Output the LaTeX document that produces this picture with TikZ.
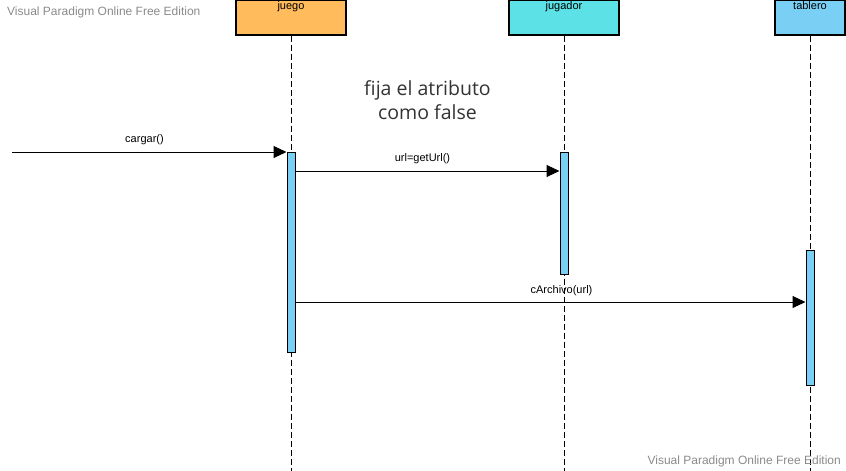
\documentclass[tikz,border=0pt]{standalone}
\usepackage{fontspec}
\setmainfont{Liberation Sans}
\newfontfamily\notefont{Open Sans}
\usepackage{tikz}
\usetikzlibrary{arrows.meta}
\definecolor{boxorange}{HTML}{FFBB5C}
\definecolor{boxcyan}{HTML}{5CE1E6}
\definecolor{boxblue}{HTML}{7ACFF5}
\definecolor{wmgray}{HTML}{8A8A8A}
\definecolor{notegray}{HTML}{333333}

\begin{document}
\begin{tikzpicture}[x=1pt,y=-1pt,
		obj/.style={draw,line width=1.1pt,minimum width=110pt,minimum height=35pt,inner sep=0pt},
		act/.style={draw,line width=1pt,fill=boxblue,minimum width=8pt,inner sep=0pt,anchor=north},
		lifeline/.style={dash pattern=on 6pt off 3pt,line width=0.9pt},
		msg/.style={-{Triangle[length=13pt,width=12pt]},line width=1pt},
		lbl/.style={font=\fontsize{11}{13}\selectfont,inner sep=0pt},
		wm/.style={font=\fontsize{12}{14}\selectfont,text=wmgray,inner sep=0pt}]
		\useasboundingbox (0,0) rectangle (846,471);
		% 点の定義
		\coordinate (bottom) at (0,471);
		\coordinate (start) at (12,152);
		\coordinate (m_url) at (0,171);
		\coordinate (m_arch) at (0,302);
		% オブジェクトの描画
		\node[obj,fill=boxorange,label={[lbl,anchor=north,yshift=-2pt]north:juego}] (juego) at (291,17.5) {};
		\node[obj,fill=boxcyan,label={[lbl,anchor=north,yshift=-2pt]north:jugador}] (jugador) at (564,17.5) {};
		\node[obj,fill=boxblue,minimum width=70pt,label={[lbl,anchor=north,yshift=-2pt]north:tablero}] (tablero) at (810,17.5) {};
		% 生存線の描画
		\draw[lifeline] (juego.south) -- (juego.south |- bottom);
		\draw[lifeline] (jugador.south) -- (jugador.south |- bottom);
		\draw[lifeline] (tablero.south) -- (tablero.south |- bottom);
		% 活性区間の描画
		\node[act,minimum height=200pt] (act_juego) at (291,152) {};
		\node[act,minimum height=122pt] (act_jugador) at (564,152) {};
		\node[act,minimum height=135pt] (act_tablero) at (810,250) {};
		% メッセージの描画
		\draw[msg] (start) -- (act_juego.north west);
		\draw[msg] (act_juego.east |- m_url) -- (act_jugador.west |- m_url);
		\draw[msg] (act_juego.east |- m_arch) -- (act_tablero.west |- m_arch);
		\node[lbl] (l_cargar) at (144.5,140) {cargar()};
		\node[lbl] (l_url) at (422.5,159) {url=getUrl()};
		\node[lbl] (l_arch) at (561.5,291) {cArchivo(url)};
		% 注記の描画
		\node[font=\notefont\fontsize{19.5}{24}\selectfont,text=notegray,align=center,inner sep=0pt] (note) at (427.5,100) {fija el atributo\\como false};
		% 透かしの描画
		\node[wm,anchor=west] (wm_top) at (7,12) {Visual Paradigm Online Free Edition};
		\node[wm,anchor=east] (wm_bottom) at (841,461) {Visual Paradigm Online Free Edition};
	\end{tikzpicture}
\end{document}
